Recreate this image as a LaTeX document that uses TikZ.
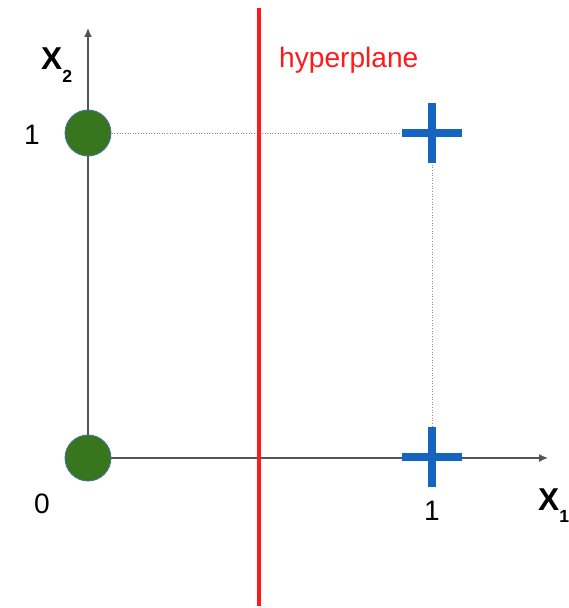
\documentclass[tikz,border=0pt]{standalone}
\usepackage{fontspec}
\setmainfont{Liberation Sans}
\usetikzlibrary{arrows.meta, shapes.misc}
\definecolor{ptGreen}{HTML}{38761D}
\definecolor{ptEdge}{HTML}{4A6FA5}
\definecolor{plusBlue}{HTML}{1565C0}
\definecolor{axisGray}{HTML}{555555}
\definecolor{guideGray}{HTML}{8C8C8C}
\definecolor{hypRed}{HTML}{FF1A1A}

\begin{document}
\begin{tikzpicture}[x=0.02cm, y=-0.02cm,
    dotpt/.style={circle, draw=ptEdge, line width=0.5pt, fill=ptGreen,
                  minimum size=0.92cm, inner sep=0pt},
    plusmark/.style={cross out, rotate=45, draw=plusBlue, line width=5pt,
                     minimum size=0.66cm, inner sep=0pt},
    axis/.style={-{Latex[length=5pt, width=4.5pt]}, axisGray, line width=0.8pt},
    guide/.style={guideGray, densely dotted, line width=0.5pt},
    ticklbl/.style={font=\fontsize{16}{16}\selectfont, anchor=base},
    axlbl/.style={font=\fontsize{18}{18}\selectfont\bfseries, anchor=base west}]
  \useasboundingbox (0,0) rectangle (568,608);
  % positions of the four inputs
  \coordinate (q00) at (88,458);
  \coordinate (q01) at (88,133);
  \coordinate (q10) at (432,457);
  \coordinate (q11) at (432,133);
  \coordinate (ytop) at (88,28);
  \coordinate (xend) at (548,458);
  % axes and guides
  \draw[axis] (q00) -- (ytop);
  \draw[axis] (q00) -- (xend);
  \draw[guide] (q01) -- (q11);
  \draw[guide] (q11) -- (q10);
  % class 0 / class 1 points
  \node[dotpt] (c00) at (q00) {};
  \node[dotpt] (c01) at (q01) {};
  \node[plusmark] (p10) at (q10) {};
  \node[plusmark] (p11) at (q11) {};
  % separating line
  \coordinate (htop) at (259,8);
  \coordinate (hbot) at (259,606);
  \draw[hypRed, line width=2.3pt] (htop) -- (hbot);
  \node[anchor=base west, text=hypRed, font=\fontsize{16}{16}\selectfont]
    (hyp) at (273,68) {hyperplane};
  % labels
  \node[axlbl] (lx2) at (35,70) {X\raisebox{-7pt}{\fontsize{10}{10}\selectfont 2}};
  \node[axlbl] (lx1) at (532,510) {X\raisebox{-7pt}{\fontsize{10}{10}\selectfont 1}};
  \node[ticklbl] (t1y) at (32,144) {1};
  \node[ticklbl] (t0) at (42,513) {0};
  \node[ticklbl] (t1x) at (432,520) {1};
\end{tikzpicture}
\end{document}
